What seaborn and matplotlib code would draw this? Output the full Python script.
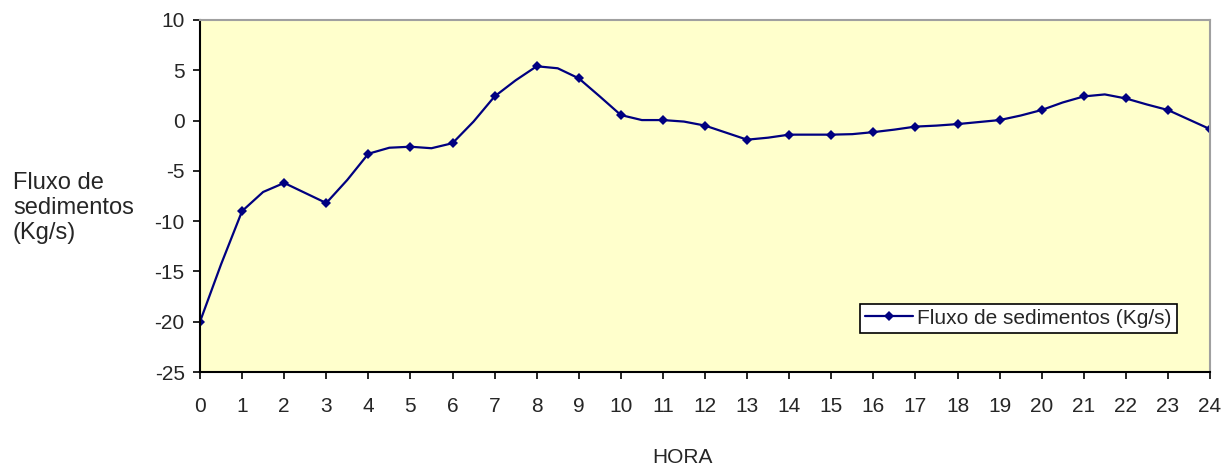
import numpy as np
import pandas as pd
import matplotlib
matplotlib.use("Agg")
import matplotlib.pyplot as plt
import seaborn as sns

# Half-hourly readings (hours 0..24), markers at whole hours
hora = [0, 0.5, 1, 1.5, 2, 2.5, 3, 3.5, 4, 4.5, 5, 5.5, 6, 6.5, 7, 7.5, 8, 8.5,
        9, 9.5, 10, 10.5, 11, 11.5, 12, 12.5, 13, 13.5, 14, 14.5, 15, 15.5,
        16, 16.5, 17, 17.5, 18, 18.5, 19, 19.5, 20, 20.5, 21, 21.5, 22, 22.5,
        23, 23.5, 24]
fluxo = [-20.0, -14.3, -9.0, -7.1, -6.2, -7.2, -8.2, -5.9, -3.3, -2.7, -2.6,
         -2.75, -2.25, -0.1, 2.4, 4.0, 5.4, 5.2, 4.2, 2.4, 0.55, 0.05, 0.05,
         -0.1, -0.5, -1.2, -1.9, -1.7, -1.4, -1.4, -1.4, -1.35, -1.15, -0.9,
         -0.6, -0.5, -0.35, -0.15, 0.05, 0.5, 1.05, 1.8, 2.4, 2.6, 2.2, 1.6,
         1.05, 0.1, -0.85]
serie = "Fluxo de sedimentos (Kg/s)"
xticks = list(range(0, 25))
yticks = [-25, -20, -15, -10, -5, 0, 5, 10]

df = pd.DataFrame({"HORA": hora, serie: fluxo})

sns.set_style("ticks")
plt.rcParams["font.family"] = ["Liberation Sans", "DejaVu Sans"]
plt.rcParams["axes.unicode_minus"] = False

fig = plt.figure(figsize=(12.23, 4.65), dpi=100)
ax = fig.add_axes([200/1223, 93/465, 1010/1223, 352/465])
ax.set_facecolor("#FFFFCC")

sns.lineplot(data=df, x="HORA", y=serie, ax=ax, color="#000080", linewidth=1.6,
             marker="D", markersize=5, markevery=2, markeredgewidth=0,
             label=serie, estimator=None)

ax.set_xlim(0, 24)
ax.set_ylim(-25, 10)
ax.set_xticks(xticks)
ax.set_yticks(yticks)
ax.tick_params(axis="both", direction="out", length=5, width=1.2, color="black",
               labelsize=15)
ax.tick_params(axis="x", pad=13)
ax.tick_params(axis="y", pad=6)
for s in ["left", "bottom"]:
    ax.spines[s].set_color("black")
    ax.spines[s].set_linewidth(1.5)
for s in ["top", "right"]:
    ax.spines[s].set_color("#A0A0A0")
    ax.spines[s].set_linewidth(1.5)

ax.set_ylabel("")
ax.set_xlabel("")
fig.text(682/1223, 1 - 457/465, "HORA", fontsize=15, ha="center", va="center")

fig.text(13/1223, 1 - 208/465, "Fluxo de\nsedimentos\n(Kg/s)", fontsize=17,
         ha="left", va="center", linespacing=1.2)

leg = ax.legend(loc="lower right", bbox_to_anchor=(0.967, 0.111), fontsize=15,
                frameon=True, fancybox=False, framealpha=1, edgecolor="black",
                handlelength=2.3, handletextpad=0.2, borderpad=0.25,
                borderaxespad=0)
leg.get_frame().set_linewidth(1.2)

fig.savefig("out.png", dpi=100)
